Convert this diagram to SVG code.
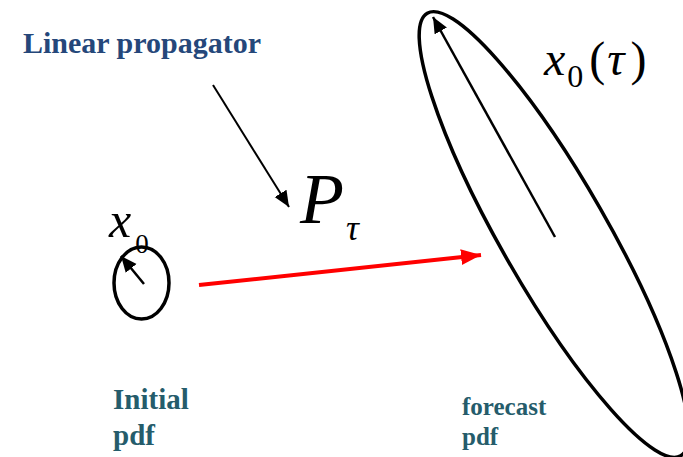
<svg xmlns="http://www.w3.org/2000/svg" width="683" height="457" viewBox="0 0 683 457">
<style>
text{font-family:"Liberation Serif","Times New Roman",Times,Tinos,"DejaVu Serif","Noto Serif",serif}
.lbl{font-weight:bold}
.math{font-style:italic;fill:#000}
.rm{font-style:normal;fill:#000}
.pdf{fill:none;stroke:#000;stroke-width:3.5}
</style>
<defs>
<marker id="ah" markerUnits="userSpaceOnUse" markerWidth="20" markerHeight="16" refX="16" refY="7" orient="auto">
<path d="M0,0 L16,7 L0,14 Z" fill="#000"/>
</marker>
<marker id="ahr" markerUnits="userSpaceOnUse" markerWidth="22" markerHeight="18" refX="20" refY="8" orient="auto">
<path d="M0,0 L20,8 L0,16 Z" fill="#ff0000"/>
</marker>
</defs>
<rect width="683" height="457" fill="#fff"/>
<g id="title">
<text class="lbl" x="23" y="53" font-size="30" fill="#25477a">Linear propagator</text>
</g>
<g id="initial">
<ellipse class="pdf" cx="141.5" cy="283" rx="27.5" ry="36"/>
<text x="109" y="237" font-size="50"><tspan class="math">x</tspan><tspan class="rm" font-size="27" dx="4" dy="16">0</tspan></text>
<text class="lbl" x="113" y="409" font-size="29" fill="#255c6b">Initial</text>
<text class="lbl" x="113" y="445" font-size="29" fill="#255c6b">pdf</text>
</g>
<g id="forecast">
<ellipse class="pdf" cx="554" cy="234.5" rx="255" ry="53" transform="rotate(60.2 554 234.5)"/>
<text x="544" y="75" font-size="48"><tspan class="math">x</tspan><tspan class="rm" font-size="32" dx="2" dy="12">0</tspan><tspan class="rm" dx="6" dy="-12">(</tspan><tspan class="math" dx="2">τ</tspan><tspan class="rm" dx="6">)</tspan></text>
<text class="lbl" x="462" y="415" font-size="25" fill="#255c6b">forecast</text>
<text class="lbl" x="462" y="445" font-size="25" fill="#255c6b">pdf</text>
</g>
<g id="propagator">
<text x="300" y="223" font-size="72"><tspan class="math">P</tspan><tspan class="math" font-size="36" dx="2" dy="17">τ</tspan></text>
</g>
<g id="connectors">
<line x1="213" y1="85" x2="289" y2="207" stroke="#000" stroke-width="2" marker-end="url(#ah)"/>
<line x1="144" y1="284" x2="121" y2="256" stroke="#000" stroke-width="2.5" marker-end="url(#ah)"/>
<line x1="555" y1="237" x2="433" y2="17" stroke="#000" stroke-width="2.5" marker-end="url(#ah)"/>
<line x1="199" y1="285" x2="481" y2="255" stroke="#ff0000" stroke-width="4" marker-end="url(#ahr)"/>
</g>
</svg>
